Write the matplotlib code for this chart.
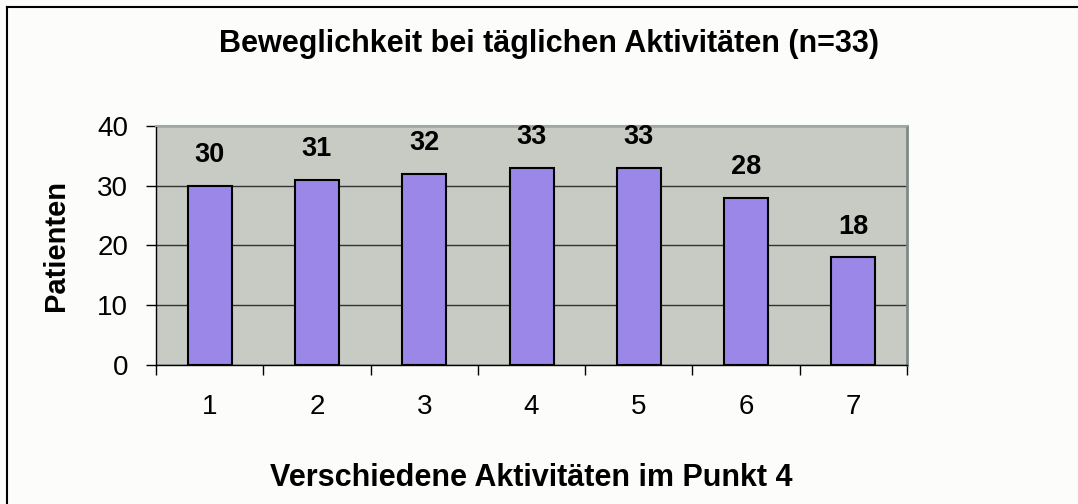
import matplotlib
matplotlib.use("Agg")
import matplotlib.pyplot as plt
from matplotlib.lines import Line2D
import numpy as np

categories = ["1", "2", "3", "4", "5", "6", "7"]
values = [30, 31, 32, 33, 33, 28, 18]
yticks = [0, 10, 20, 30, 40]

plt.rcParams['font.family'] = ['Liberation Sans', 'DejaVu Sans']

fig = plt.figure(figsize=(10.78, 5.04), dpi=100, facecolor='#fcfcfa')
ax = fig.add_axes([0.1447, 0.2758, 0.6967, 0.4742])
ax.set_facecolor('#c8cac4')

x = np.arange(len(categories))
ax.bar(x, values, width=0.41, color='#9a87e8', edgecolor='black', linewidth=1.5, zorder=3)
for xi, v in zip(x, values):
    ax.annotate(str(v), (xi, v), xytext=(0, 22), textcoords='offset points',
                ha='center', va='center', fontsize=19.5, fontweight='bold', zorder=4)

ax.set_xlim(-0.5, len(categories) - 0.5)
ax.set_ylim(0, 40)
ax.set_yticks(yticks)
ax.set_yticklabels([str(t) for t in yticks], fontsize=20)
ax.yaxis.grid(True, color='#333333', linewidth=1.0, zorder=1)
ax.set_axisbelow(True)

ax.set_xticks(x)
ax.set_xticklabels(categories, fontsize=20)
ax.tick_params(axis='x', which='major', length=0, pad=21)
ax.set_xticks(np.arange(-0.5, len(categories)), minor=True)
ax.tick_params(axis='x', which='minor', length=7, width=1, direction='out')
ax.tick_params(axis='y', length=7, width=1, direction='out', pad=13)

for s in ['left', 'bottom']:
    ax.spines[s].set_color('black')
    ax.spines[s].set_linewidth(1)
ax.spines['top'].set_color('#a0a8a4')
ax.spines['top'].set_linewidth(1.5)
ax.spines['right'].set_color('#7f8a85')
ax.spines['right'].set_linewidth(2)

ax.set_ylabel('Patienten', fontsize=21, fontweight='bold', va='center')
ax.yaxis.set_label_coords(-0.133, 0.5)
ax.set_xlabel('Verschiedene Aktivitäten im Punkt 4', fontsize=22, fontweight='bold', va='top')
ax.xaxis.set_label_coords(0.5, -0.41)
fig.text(0.509, 1 - 52/504, 'Beweglichkeit bei täglichen Aktivitäten (n=33)', ha='center', va='baseline',
         fontsize=22, fontweight='bold')

fig.add_artist(Line2D([7/1078, 1.0], [1 - 7/504, 1 - 7/504], transform=fig.transFigure, color='black', linewidth=1.5))
fig.add_artist(Line2D([7/1078, 7/1078], [0, 1 - 7/504], transform=fig.transFigure, color='black', linewidth=1.5))

fig.savefig('out.png', dpi=100, facecolor=fig.get_facecolor())
